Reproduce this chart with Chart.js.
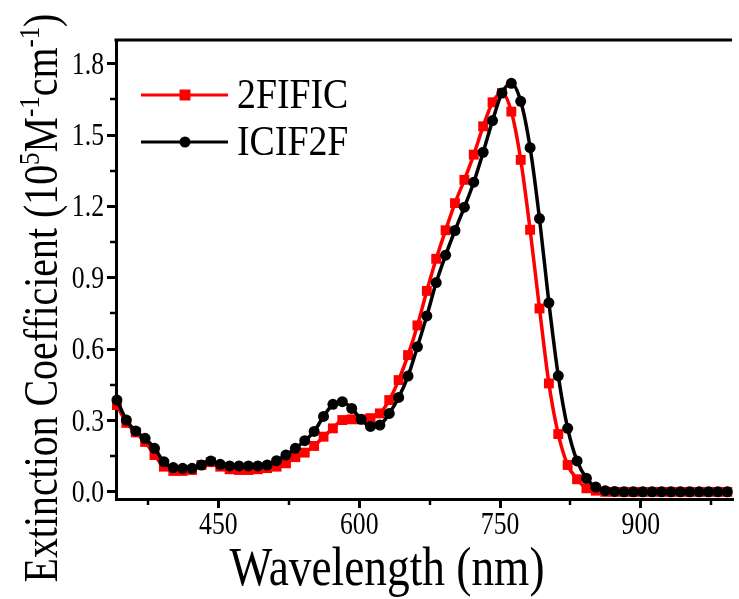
<!DOCTYPE html>
<html lang="en">
<head>
    <meta charset="UTF-8">
    <title>Extinction Coefficient</title>
    <style>
        html, body {
            margin: 0;
            padding: 0;
            background: #ffffff;
        }
        #wrap {
            width: 739px;
            height: 599px;
        }
    </style>
    <script src="https://cdn.jsdelivr.net/npm/chart.js"></script>
</head>
<body>
    <div id="wrap"><canvas id="absChart" width="739" height="599"></canvas></div>

    <script>
        // wavelength (nm) of each plotted marker
        const wavelengths = [342, 352, 362, 372, 382, 392, 402, 412, 422, 432,
            442, 452, 462, 472, 482, 492, 502, 512, 522, 532,
            542, 552, 562, 572, 582, 592, 602, 612, 622, 632,
            642, 652, 662, 672, 682, 692, 702, 712, 722, 732,
            742, 752, 762, 772, 782, 792, 802, 812, 822, 832,
            842, 852, 862, 872, 882, 892, 902, 912, 922, 932,
            942, 952, 962, 972, 982, 992];

        // extinction coefficient, 10^5 M^-1 cm^-1
        const fific = [0.365, 0.290, 0.250, 0.210, 0.155, 0.106, 0.088, 0.088, 0.092, 0.113,
            0.125, 0.106, 0.095, 0.092, 0.092, 0.095, 0.100, 0.106, 0.120, 0.146,
            0.165, 0.193, 0.232, 0.267, 0.302, 0.305, 0.305, 0.310, 0.330, 0.386,
            0.470, 0.575, 0.700, 0.845, 0.980, 1.100, 1.214, 1.312, 1.418, 1.537,
            1.638, 1.677, 1.599, 1.396, 1.102, 0.771, 0.456, 0.243, 0.113, 0.053,
            0.015, 0.005, 0, 0, 0, 0, 0, 0, 0, 0,
            0, 0, 0, 0, 0, 0];

        const icif2f = [0.386, 0.302, 0.256, 0.225, 0.183, 0.127, 0.102, 0.099, 0.099, 0.113,
            0.130, 0.116, 0.109, 0.109, 0.109, 0.109, 0.113, 0.131, 0.155, 0.183,
            0.215, 0.254, 0.317, 0.368, 0.379, 0.351, 0.305, 0.275, 0.281, 0.330,
            0.397, 0.487, 0.610, 0.740, 0.880, 0.995, 1.099, 1.197, 1.302, 1.428,
            1.561, 1.677, 1.718, 1.642, 1.447, 1.149, 0.795, 0.488, 0.267, 0.130,
            0.057, 0.020, 0.005, 0.002, 0, 0, 0, 0, 0, 0,
            0, 0, 0, 0, 0, 0];

        const seriesNames = ['2FIFIC', 'ICIF2F'];

        const xTicks = [450, 600, 750, 900];
        const xMinorTicks = [375, 525, 675, 825, 975];
        const yTicks = [0, 0.3, 0.6, 0.9, 1.2, 1.5, 1.8];
        const yTickLabels = ['0.0', '0.3', '0.6', '0.9', '1.2', '1.5', '1.8'];
        const yMinorTicks = [0.15, 0.45, 0.75, 1.05, 1.35, 1.65];

        const SERIF = '"Liberation Serif", "Times New Roman", serif';

        function toPoints(vals) {
            return wavelengths.map((w, i) => ({ x: w, y: vals[i] }));
        }

        // squeezed text, the original figure uses a narrow Times face
        function narrowText(ctx, text, x, y, squeeze, align) {
            ctx.save();
            ctx.translate(x, y);
            ctx.scale(squeeze, 1);
            ctx.textAlign = align || 'left';
            ctx.fillText(text, 0, 0);
            ctx.restore();
        }

        const decorPlugin = {
            id: 'decor',
            afterDraw(chart) {
                const ctx = chart.ctx;
                const area = chart.chartArea;
                const xs = chart.scales.x;
                const ys = chart.scales.y;

                ctx.save();
                ctx.strokeStyle = '#000';
                ctx.fillStyle = '#000';

                // top frame line
                ctx.lineWidth = 3;
                ctx.beginPath();
                ctx.moveTo(area.left - 1.5, area.top);
                ctx.lineTo(area.right, area.top);
                ctx.stroke();

                // minor ticks
                ctx.lineWidth = 2.5;
                xMinorTicks.forEach(v => {
                    const px = Math.round(xs.getPixelForValue(v));
                    ctx.beginPath();
                    ctx.moveTo(px, area.bottom);
                    ctx.lineTo(px, area.bottom + 6);
                    ctx.stroke();
                });
                yMinorTicks.forEach(v => {
                    const py = Math.round(ys.getPixelForValue(v));
                    ctx.beginPath();
                    ctx.moveTo(area.left, py);
                    ctx.lineTo(area.left - 6, py);
                    ctx.stroke();
                });

                // tick labels
                ctx.font = '31px ' + SERIF;
                ctx.textBaseline = 'alphabetic';
                xTicks.forEach(v => {
                    narrowText(ctx, String(v), xs.getPixelForValue(v), 534, 0.83, 'center');
                });
                yTicks.forEach((v, i) => {
                    narrowText(ctx, yTickLabels[i], 104, ys.getPixelForValue(v) + 10, 0.83, 'right');
                });

                // x title
                ctx.font = '54px ' + SERIF;
                narrowText(ctx, 'Wavelength (nm)', 387, 585, 0.84, 'center');

                // y title with superscripts
                const parts = [
                    ['Extinction Coefficient (10', false],
                    ['5', true],
                    ['M', false],
                    ['-1', true],
                    ['cm', false],
                    ['-1', true],
                    [')', false]
                ];
                const big = '48px ' + SERIF;
                const small = '30px ' + SERIF;
                let total = 0;
                parts.forEach(p => {
                    ctx.font = p[1] ? small : big;
                    total += ctx.measureText(p[0]).width;
                });
                ctx.save();
                ctx.translate(57, 298);
                ctx.rotate(-Math.PI / 2);
                ctx.scale(0.83, 1);
                ctx.textAlign = 'left';
                let cx = -total / 2;
                parts.forEach(p => {
                    ctx.font = p[1] ? small : big;
                    ctx.fillText(p[0], cx, p[1] ? -18 : 0);
                    cx += ctx.measureText(p[0]).width;
                });
                ctx.restore();

                // legend
                const rows = [
                    { y: 95, color: '#ff0000', shape: 'square' },
                    { y: 142, color: '#000000', shape: 'circle' }
                ];
                rows.forEach((r, i) => {
                    ctx.strokeStyle = r.color;
                    ctx.fillStyle = r.color;
                    ctx.lineWidth = 3;
                    ctx.beginPath();
                    ctx.moveTo(141, r.y);
                    ctx.lineTo(228, r.y);
                    ctx.stroke();
                    if (r.shape === 'square') {
                        ctx.fillRect(185 - 5.5, r.y - 5.5, 11, 11);
                    } else {
                        ctx.beginPath();
                        ctx.arc(185, r.y, 5.5, 0, Math.PI * 2);
                        ctx.fill();
                    }
                    ctx.fillStyle = '#000';
                    ctx.font = '42px ' + SERIF;
                    narrowText(ctx, seriesNames[i], 237, r.y + 13, 0.9, 'left');
                });

                ctx.restore();
            }
        };

        const ctx = document.getElementById('absChart').getContext('2d');
        new Chart(ctx, {
            type: 'line',
            data: {
                datasets: [
                    {
                        label: seriesNames[0],
                        data: toPoints(fific),
                        borderColor: '#ff0000',
                        backgroundColor: '#ff0000',
                        borderWidth: 3.5,
                        pointStyle: 'rect',
                        pointRadius: 7,
                        pointBorderWidth: 0,
                        cubicInterpolationMode: 'monotone',
                        clip: false,
                        order: 1
                    },
                    {
                        label: seriesNames[1],
                        data: toPoints(icif2f),
                        borderColor: '#000000',
                        backgroundColor: '#000000',
                        borderWidth: 3.5,
                        pointStyle: 'circle',
                        pointRadius: 5.5,
                        pointBorderWidth: 0,
                        cubicInterpolationMode: 'monotone',
                        clip: false,
                        order: 0
                    }
                ]
            },
            options: {
                responsive: false,
                animation: false,
                devicePixelRatio: 1,
                layout: { padding: { top: 40, right: 0, left: 0, bottom: 0 } },
                plugins: {
                    legend: { display: false },
                    tooltip: { enabled: false }
                },
                scales: {
                    x: {
                        type: 'linear',
                        min: 341,
                        max: 997,
                        afterBuildTicks: s => { s.ticks = xTicks.map(v => ({ value: v })); },
                        afterFit: s => { s.height = 100; },
                        ticks: { display: false },
                        grid: {
                            drawOnChartArea: false,
                            drawTicks: true,
                            tickLength: 9,
                            color: '#000',
                            lineWidth: 3
                        },
                        border: { display: true, color: '#000', width: 3 }
                    },
                    y: {
                        type: 'linear',
                        min: -0.03,
                        max: 1.9,
                        afterBuildTicks: s => { s.ticks = yTicks.map(v => ({ value: v })); },
                        afterFit: s => { s.width = 116; },
                        ticks: { display: false },
                        grid: {
                            drawOnChartArea: false,
                            drawTicks: true,
                            tickLength: 9,
                            color: '#000',
                            lineWidth: 3
                        },
                        border: { display: true, color: '#000', width: 3 }
                    }
                }
            },
            plugins: [decorPlugin]
        });
    </script>
</body>
</html>
